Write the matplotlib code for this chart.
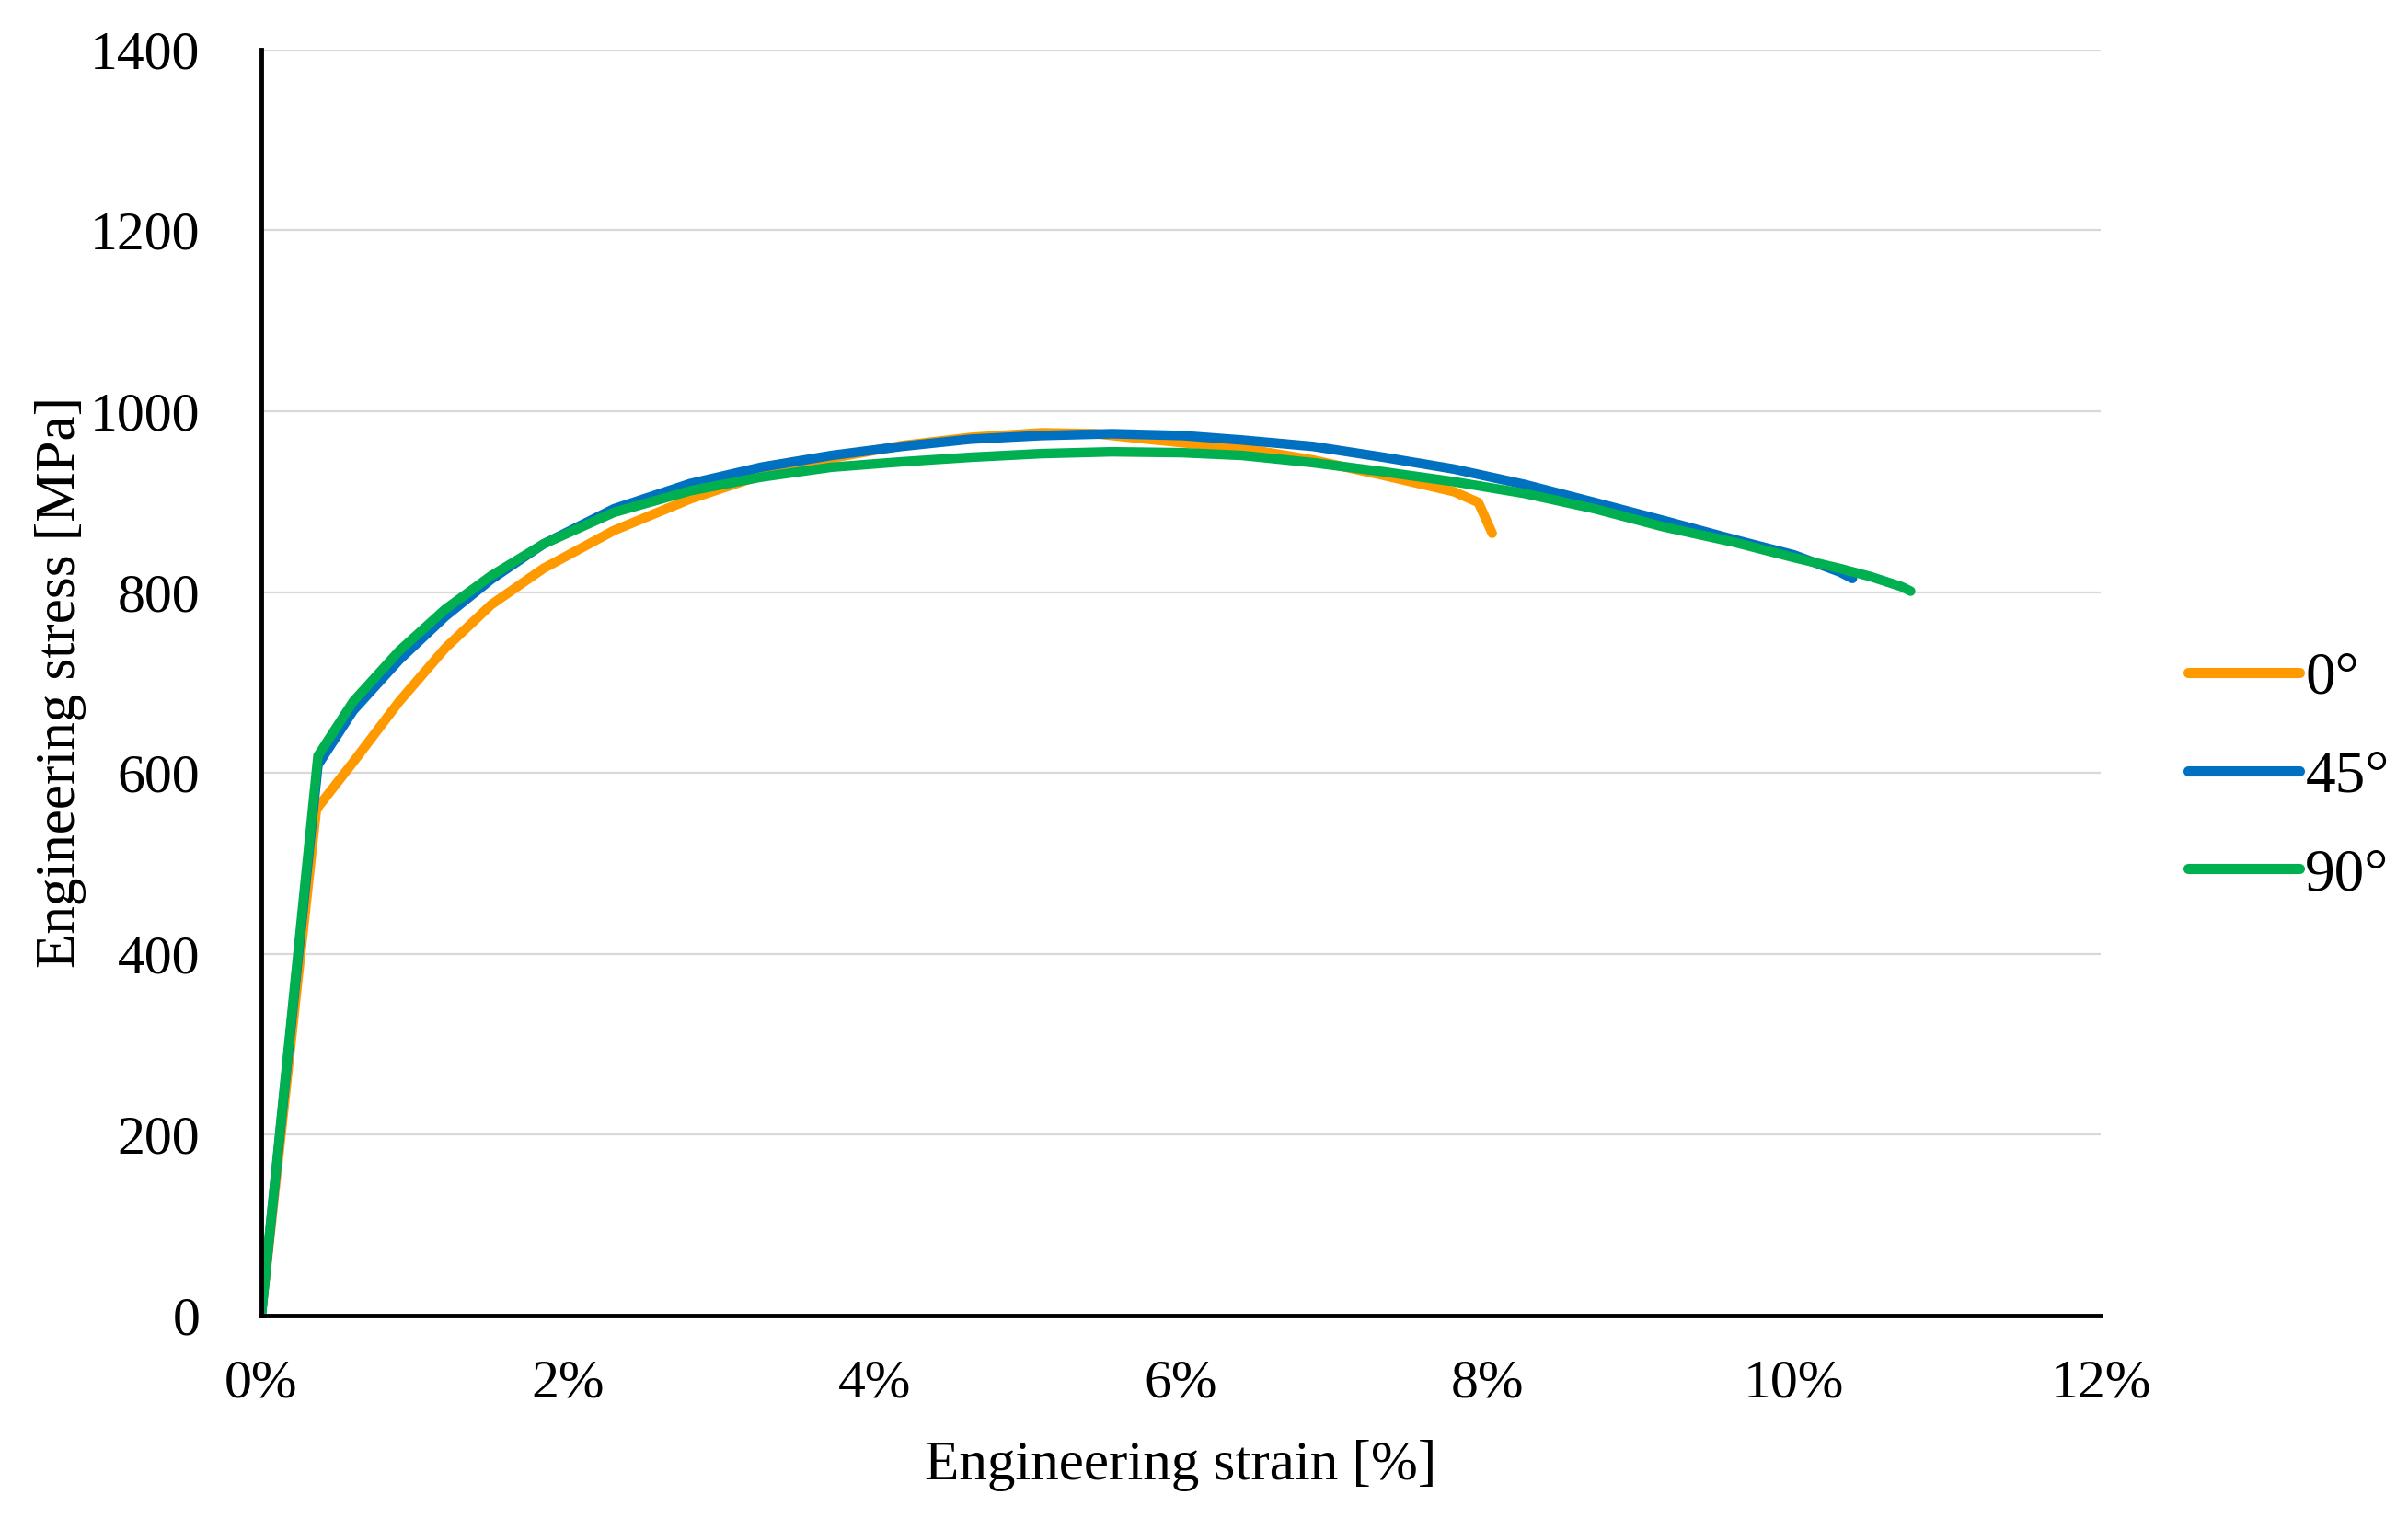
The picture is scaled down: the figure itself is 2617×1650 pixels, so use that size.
import matplotlib
matplotlib.use("Agg")
import matplotlib.pyplot as plt
from matplotlib.ticker import FuncFormatter

plt.rcParams['font.family'] = ['Liberation Serif', 'DejaVu Serif']

# Data (strain in %, stress in MPa)
strain_0 = [0.0, 0.36, 0.60, 0.90, 1.20, 1.50, 1.84, 2.30, 2.80, 3.26, 3.72, 4.18, 4.63,
            5.09, 5.44, 5.78, 6.13, 6.40, 6.86, 7.32, 7.78, 7.94, 8.03]
stress_0 = [0, 560, 612, 679, 738, 786, 826, 868, 903, 929, 948, 962, 971,
            976, 975, 969, 963, 959, 946, 929, 911, 899, 865]

strain_45 = [0.0, 0.37, 0.60, 0.90, 1.20, 1.50, 1.84, 2.30, 2.80, 3.26, 3.72, 4.18, 4.63,
             5.09, 5.55, 6.01, 6.40, 6.86, 7.32, 7.78, 8.24, 8.70, 9.15, 9.61, 10.00,
             10.30, 10.38]
stress_45 = [0, 609, 669, 725, 773, 814, 853, 892, 920, 938, 951, 961, 969,
             973, 975, 973, 968, 961, 949, 936, 919, 899, 879, 858, 841,
             822, 815]

strain_90 = [0.0, 0.37, 0.60, 0.90, 1.20, 1.50, 1.84, 2.30, 2.80, 3.26, 3.72, 4.18, 4.63,
             5.09, 5.55, 6.01, 6.40, 6.86, 7.32, 7.78, 8.24, 8.70, 9.15, 9.61, 10.00,
             10.30, 10.50, 10.70, 10.76]
stress_90 = [0, 619, 679, 735, 781, 818, 853, 888, 912, 927, 938, 944, 949,
             953, 955, 954, 951, 943, 933, 922, 909, 892, 872, 855, 838,
             826, 817, 806, 801]

labels = ['0°', '45°', '90°']
colors = ['#FF9900', '#0070C0', '#00B050']

y_ticks = [0, 200, 400, 600, 800, 1000, 1200, 1400]
x_ticks = [0, 2, 4, 6, 8, 10, 12]

fig = plt.figure(figsize=(26.17, 16.5), dpi=100)
ax = fig.add_axes([0.1085, 0.1333, 0.8724 - 0.1085, 0.9675 - 0.1333])

series = [(strain_0, stress_0), (strain_45, stress_45), (strain_90, stress_90)]
for (xs, ys), lab, col in zip(series, labels, colors):
    ax.plot(xs, ys, color=col, lw=7.5, label=lab, solid_capstyle='round',
            solid_joinstyle='round')

ax.set_xlim(0, 12)
ax.set_ylim(0, 1400)
ax.set_xticks(x_ticks)
ax.set_yticks(y_ticks)
ax.xaxis.set_major_formatter(FuncFormatter(lambda v, p: f"{int(round(v))}%"))
ax.grid(axis='y', color='#d9d9d9', lw=1.6)
ax.set_axisbelow(True)
for s in ['top', 'right']:
    ax.spines[s].set_visible(False)
for s in ['left', 'bottom']:
    ax.spines[s].set_linewidth(3.5)
    ax.spines[s].set_color('black')

ax.tick_params(axis='both', length=0, labelsize=43)
ax.tick_params(axis='y', pad=48)
ax.tick_params(axis='x', pad=34)

ax.set_xlabel('Engineering strain [%]', fontsize=44, labelpad=24)
ax.set_ylabel('Engineering stress [MPa]', fontsize=44, labelpad=3)

leg = fig.legend(loc='center left', bbox_to_anchor=(0.9087, 0.488),
                 frameon=False, fontsize=47, handlelength=1.85,
                 handletextpad=0.1, labelspacing=0.72, borderpad=0,
                 borderaxespad=0)
for h in leg.get_lines():
    h.set_linewidth(8)

fig.savefig('out.png', dpi=100)
